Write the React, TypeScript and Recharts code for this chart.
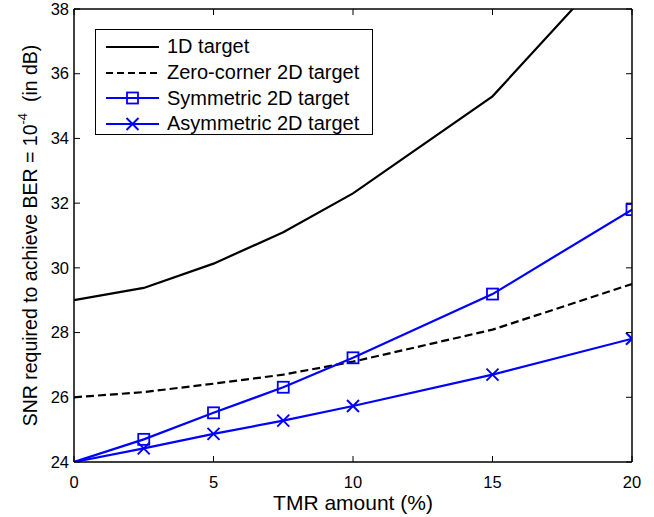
import { LineChart, Line, XAxis, YAxis, Legend } from 'recharts'

const tmr = [0, 2.5, 5, 7.5, 10, 15, 20]
const oneD = [29.0, 29.38, 30.13, 31.1, 32.3, 35.3, 40.0]
const zeroCorner = [26.0, 26.16, 26.42, 26.7, 27.1, 28.09, 29.5]
const symmetric = [24.0, 24.7, 25.52, 26.31, 27.22, 29.19, 31.8]
const asymmetric = [24.0, 24.42, 24.87, 25.28, 25.73, 26.7, 27.81]
const xTicks = [0, 5, 10, 15, 20]
const yTicks = [24, 26, 28, 30, 32, 34, 36, 38]

const data = tmr.map((x, i) => ({
  x,
  oneD: oneD[i],
  zeroCorner: zeroCorner[i],
  symmetric: symmetric[i],
  asymmetric: asymmetric[i],
}))

const FONT = '"Liberation Sans", Arial, sans-serif'
const BLUE = '#0000ff'
const TICK_LEN = 6
const X_MARGIN = 14
const Y_MARGIN = 5
const AXIS_LINE = { stroke: '#000', strokeWidth: 1.5 }

const SquareDot = (props: any) => {
  const { cx, cy, index } = props
  if (index === 0 || cx == null) return <g key={`sq-${index}`} />
  return (
    <rect key={`sq-${index}`} x={cx - 5.5} y={cy - 5.5} width={11} height={11}
      fill="none" stroke={BLUE} strokeWidth={1.8} />
  )
}

const CrossDot = (props: any) => {
  const { cx, cy, index } = props
  if (index === 0 || cx == null) return <g key={`cr-${index}`} />
  const r = 6
  return (
    <g key={`cr-${index}`} stroke={BLUE} strokeWidth={2}>
      <line x1={cx - r} y1={cy - r} x2={cx + r} y2={cy + r} />
      <line x1={cx - r} y1={cy + r} x2={cx + r} y2={cy - r} />
    </g>
  )
}

// ticks drawn inward, like MATLAB
const BottomTick = (props: any) => {
  const { x, y, payload } = props
  return (
    <g>
      <path d={`M${x},${y - X_MARGIN}V${y - X_MARGIN - TICK_LEN}`} stroke="#000" strokeWidth={1} fill="none" />
      <text x={x} y={y} dy="0.75em" textAnchor="middle" fontFamily={FONT} fontSize={16.5} fill="#000">{payload.value}</text>
    </g>
  )
}
const LeftTick = (props: any) => {
  const { x, y, payload } = props
  return (
    <g>
      <path d={`M${x + Y_MARGIN},${y}H${x + Y_MARGIN + TICK_LEN}`} stroke="#000" strokeWidth={1} fill="none" />
      <text x={x} y={y} dy="0.35em" textAnchor="end" fontFamily={FONT} fontSize={16.5} fill="#000">{payload.value}</text>
    </g>
  )
}
const TopTick = (props: any) => {
  const { x, y } = props
  return <path d={`M${x},${y}V${y + TICK_LEN}`} stroke="#000" strokeWidth={1} fill="none" />
}
const RightTick = (props: any) => {
  const { x, y } = props
  return <path d={`M${x - TICK_LEN},${y}H${x}`} stroke="#000" strokeWidth={1} fill="none" />
}

const legendItems = [
  { name: '1D target', color: '#000', dash: undefined, marker: null },
  { name: 'Zero-corner 2D target', color: '#000', dash: '7 4', marker: null },
  { name: 'Symmetric 2D target', color: BLUE, dash: undefined, marker: 'square' },
  { name: 'Asymmetric 2D target', color: BLUE, dash: undefined, marker: 'cross' },
]

const LegendBox = () => (
  <div style={{ border: '1.5px solid #000', background: '#fff', width: 276, height: 100, paddingTop: 4 }}>
    {legendItems.map((it) => (
      <div key={it.name} style={{ display: 'flex', alignItems: 'center', height: 25.7, fontFamily: FONT, fontSize: 20, color: '#000', whiteSpace: 'nowrap' }}>
        <svg width={71} height={20}>
          <line x1={10} y1={10} x2={63} y2={10} stroke={it.color} strokeWidth={2.2} strokeDasharray={it.dash} />
          {it.marker === 'square' && (
            <rect x={31} y={4.5} width={11} height={11} fill="none" stroke={BLUE} strokeWidth={1.8} />
          )}
          {it.marker === 'cross' && (
            <g stroke={BLUE} strokeWidth={2}>
              <line x1={30.5} y1={4} x2={42.5} y2={16} />
              <line x1={30.5} y1={16} x2={42.5} y2={4} />
            </g>
          )}
        </svg>
        <span>{it.name}</span>
      </div>
    ))}
  </div>
)

const YLabel = (props: any) => {
  const { viewBox } = props
  const cx = 30
  const cy = viewBox.y + viewBox.height / 2
  return (
    <text transform={`translate(${cx},${cy}) rotate(-90)`} textAnchor="middle" dominantBaseline="central"
      fontFamily={FONT} fontSize={19.5} fill="#000">
      SNR required to achieve BER = 10<tspan dy={-8} fontSize={13}>-4</tspan><tspan dy={8}>{'\u00a0\u00a0(in dB)'}</tspan>
    </text>
  )
}

export default function App() {
  return (
    <div style={{ position: 'absolute', left: 0, top: 0, background: '#fff' }}>
      <LineChart width={654} height={517} data={data} margin={{ top: 8, right: 21, left: 34, bottom: 25 }}>
        <XAxis dataKey="x" type="number" domain={[0, 20]} ticks={xTicks} allowDataOverflow
          height={30} axisLine={AXIS_LINE} tickLine={false} tickSize={0} tickMargin={X_MARGIN}
          tick={<BottomTick />}
          label={{ value: 'TMR amount (%)', position: 'bottom', offset: 3, fill: '#000', fontFamily: FONT, fontSize: 21 }} />
        <XAxis xAxisId="top" dataKey="x" type="number" domain={[0, 20]} ticks={xTicks} orientation="top" allowDataOverflow
          height={1} axisLine={AXIS_LINE} tickLine={false} tickSize={0} tickMargin={0} tick={<TopTick />} />
        <YAxis type="number" domain={[24, 38]} ticks={yTicks} allowDataOverflow width={40}
          axisLine={AXIS_LINE} tickLine={false} tickSize={0} tickMargin={Y_MARGIN}
          tick={<LeftTick />}
          label={<YLabel />} />
        <YAxis yAxisId="right" type="number" domain={[24, 38]} ticks={yTicks} orientation="right" allowDataOverflow
          width={1} axisLine={AXIS_LINE} tickLine={false} tickSize={0} tickMargin={0} tick={<RightTick />} />
        <Line dataKey="oneD" name="1D target" stroke="#000" strokeWidth={2.2} dot={false} isAnimationActive={false} />
        <Line dataKey="zeroCorner" name="Zero-corner 2D target" stroke="#000" strokeWidth={2.2} strokeDasharray="8 4" dot={false} isAnimationActive={false} />
        <Line dataKey="symmetric" name="Symmetric 2D target" stroke={BLUE} strokeWidth={2.2} dot={SquareDot} isAnimationActive={false} />
        <Line dataKey="asymmetric" name="Asymmetric 2D target" xAxisId="top" yAxisId="right" stroke={BLUE} strokeWidth={2.2} dot={CrossDot} isAnimationActive={false} />
        <Legend layout="vertical" align="center" verticalAlign="middle" content={<LegendBox />}
          wrapperStyle={{ position: 'absolute', left: 95, top: 29, width: 279, height: 107 }} />
      </LineChart>
    </div>
  )
}
